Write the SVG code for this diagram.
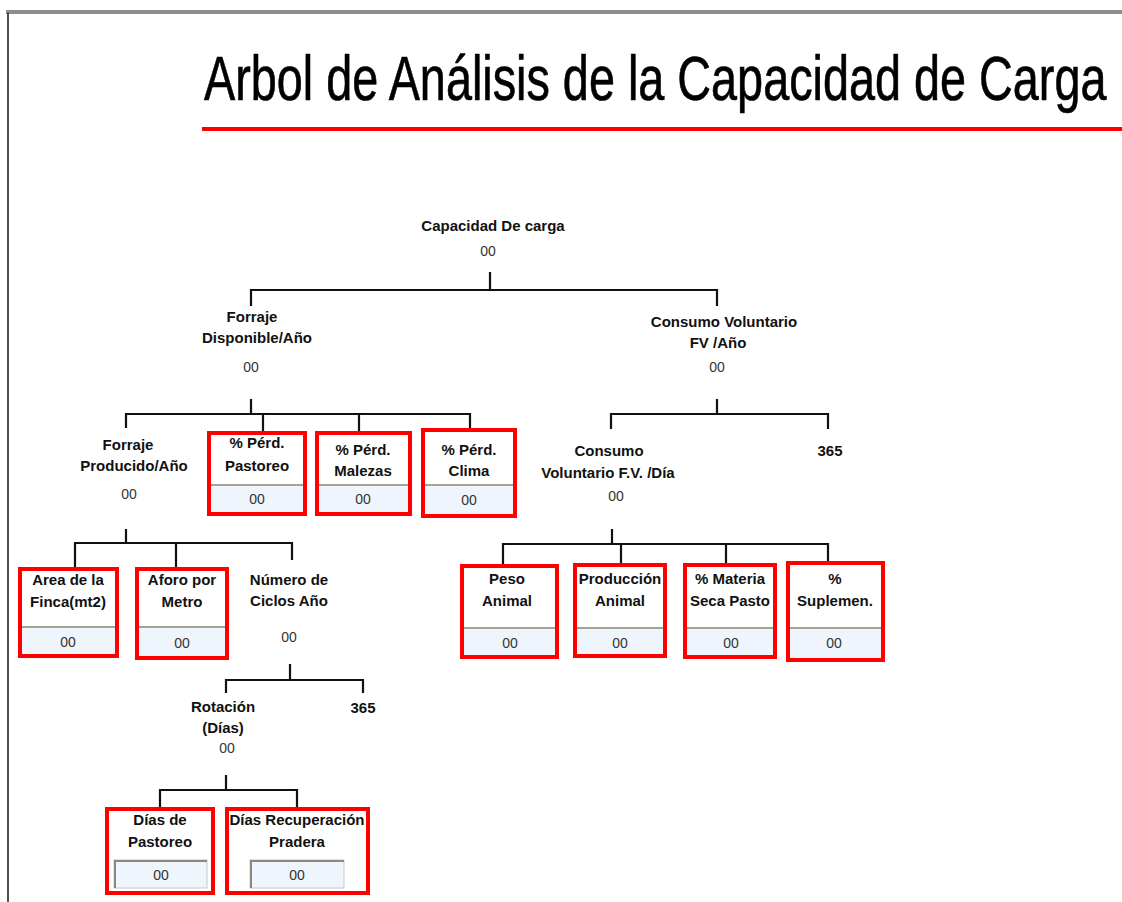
<svg xmlns="http://www.w3.org/2000/svg" width="1122" height="902" viewBox="0 0 1122 902">
<style>
.lbl{font-family:"Liberation Sans",Arial,sans-serif;font-weight:bold;font-size:15px;fill:#111;text-anchor:middle}
.val{font-family:"Liberation Sans",Arial,sans-serif;font-size:14px;fill:#333;text-anchor:middle}
.box{fill:#fff;stroke:#f00;stroke-width:4}
.fld{fill:#eef5fd}
.sep{stroke:#a3a394;stroke-width:2}
.sunk{fill:#eef5fd;stroke:#c8c8c0;stroke-width:1}
.sunkedge{fill:none;stroke:#8a8a80;stroke-width:2}
.conn{fill:none;stroke:#111;stroke-width:2.2}
</style>
<rect x="0" y="0" width="1122" height="902" fill="#fff"/>
<g id="frame">
<rect x="6" y="10" width="1116" height="4" fill="#8c8c8c"/>
<line x1="8" y1="13" x2="8" y2="902" stroke="#222" stroke-width="1.6"/>
</g>
<g id="title">
<text transform="translate(204,100) scale(1,1.33)" x="0" y="0" font-family="'Liberation Sans',Arial,sans-serif" font-size="46.8" fill="#000" stroke="#000" stroke-width="0.5">Arbol de Análisis de la Capacidad de Carga</text>
<rect x="202" y="127" width="920" height="4" fill="#f00"/>
</g>
<g id="connectors" class="conn">
<path d="M490,272V290M251,306V290H717V306"/>
<path d="M251,399V414M126,428V414H470V429M263,414V431M359,414V431"/>
<path d="M717,399V414M611,429V414H828V429"/>
<path d="M126,529V543M75,567V543H292V560M176,543V567"/>
<path d="M612,529V544M503,564V544H828V561M621,544V563M726,544V563"/>
<path d="M290,664V680M226,693V680H363V693"/>
<path d="M226,775V790M160,807V790H297V807"/>
</g>
<g id="n-capacidad">
<text class="lbl" x="493" y="231">Capacidad De carga</text>
<text class="val" x="488" y="256">00</text>
</g>
<g id="n-forraje-disp">
<text class="lbl" x="252" y="322">Forraje</text>
<text class="lbl" x="257" y="343">Disponible/Año</text>
<text class="val" x="251" y="372">00</text>
</g>
<g id="n-consumo-ano">
<text class="lbl" x="724" y="327">Consumo Voluntario</text>
<text class="lbl" x="718" y="348">FV /Año</text>
<text class="val" x="717" y="372">00</text>
</g>
<g id="n-forraje-prod">
<text class="lbl" x="128" y="450">Forraje</text>
<text class="lbl" x="134" y="471">Producido/Año</text>
<text class="val" x="129" y="499">00</text>
</g>
<g id="n-perd-pastoreo">
<rect class="box" x="209" y="433" width="96" height="81"/>
<rect class="fld" x="211" y="485" width="92" height="27"/>
<line class="sep" x1="211" y1="485" x2="303" y2="485"/>
<text class="lbl" x="257" y="448">% Pérd.</text>
<text class="lbl" x="257" y="471">Pastoreo</text>
<text class="val" x="257" y="504">00</text>
</g>
<g id="n-perd-malezas">
<rect class="box" x="317" y="433" width="93" height="81"/>
<rect class="fld" x="319" y="485" width="89" height="27"/>
<line class="sep" x1="319" y1="485" x2="408" y2="485"/>
<text class="lbl" x="363" y="455">% Pérd.</text>
<text class="lbl" x="363" y="476">Malezas</text>
<text class="val" x="363" y="504">00</text>
</g>
<g id="n-perd-clima">
<rect class="box" x="423" y="430" width="92" height="86"/>
<rect class="fld" x="425" y="485" width="88" height="29"/>
<line class="sep" x1="425" y1="485" x2="513" y2="485"/>
<text class="lbl" x="469" y="455">% Pérd.</text>
<text class="lbl" x="469" y="476">Clima</text>
<text class="val" x="469" y="505">00</text>
</g>
<g id="n-consumo-dia">
<text class="lbl" x="609" y="456">Consumo</text>
<text class="lbl" x="608" y="478">Voluntario F.V. /Día</text>
<text class="val" x="616" y="501">00</text>
</g>
<g id="n-365-a">
<text class="lbl" x="830" y="456">365</text>
</g>
<g id="n-area">
<rect class="box" x="20" y="569" width="97" height="87"/>
<rect class="fld" x="22" y="627" width="93" height="27"/>
<line class="sep" x1="22" y1="627" x2="115" y2="627"/>
<text class="lbl" x="68" y="585">Area de la</text>
<text class="lbl" x="68" y="607">Finca(mt2)</text>
<text class="val" x="68" y="647">00</text>
</g>
<g id="n-aforo">
<rect class="box" x="137" y="569" width="90" height="89"/>
<rect class="fld" x="139" y="627" width="86" height="29"/>
<line class="sep" x1="139" y1="627" x2="225" y2="627"/>
<text class="lbl" x="182" y="585">Aforo por</text>
<text class="lbl" x="182" y="607">Metro</text>
<text class="val" x="182" y="648">00</text>
</g>
<g id="n-ciclos">
<text class="lbl" x="289" y="585">Número de</text>
<text class="lbl" x="289" y="606">Ciclos Año</text>
<text class="val" x="289" y="642">00</text>
</g>
<g id="n-peso">
<rect class="box" x="462" y="566" width="95" height="91"/>
<rect class="fld" x="464" y="628" width="91" height="27"/>
<line class="sep" x1="464" y1="628" x2="555" y2="628"/>
<text class="lbl" x="507" y="584">Peso</text>
<text class="lbl" x="507" y="606">Animal</text>
<text class="val" x="510" y="648">00</text>
</g>
<g id="n-produccion">
<rect class="box" x="575" y="565" width="90" height="91"/>
<rect class="fld" x="577" y="628" width="86" height="26"/>
<line class="sep" x1="577" y1="628" x2="663" y2="628"/>
<text class="lbl" x="620" y="584">Producción</text>
<text class="lbl" x="620" y="606">Animal</text>
<text class="val" x="620" y="648">00</text>
</g>
<g id="n-materia">
<rect class="box" x="685" y="565" width="90" height="92"/>
<rect class="fld" x="687" y="628" width="86" height="27"/>
<line class="sep" x1="687" y1="628" x2="773" y2="628"/>
<text class="lbl" x="730" y="584">% Materia</text>
<text class="lbl" x="730" y="606">Seca Pasto</text>
<text class="val" x="731" y="648">00</text>
</g>
<g id="n-suplemen">
<rect class="box" x="788" y="563" width="95" height="97"/>
<rect class="fld" x="790" y="628" width="91" height="30"/>
<line class="sep" x1="790" y1="628" x2="881" y2="628"/>
<text class="lbl" x="835" y="584">%</text>
<text class="lbl" x="835" y="606">Suplemen.</text>
<text class="val" x="834" y="648">00</text>
</g>
<g id="n-rotacion">
<text class="lbl" x="223" y="712">Rotación</text>
<text class="lbl" x="223" y="733">(Días)</text>
<text class="val" x="227" y="753">00</text>
</g>
<g id="n-365-b">
<text class="lbl" x="363" y="713">365</text>
</g>
<g id="n-dias-pastoreo">
<rect class="box" x="107" y="809" width="106" height="84"/>
<rect class="sunk" x="114" y="860" width="93" height="28"/>
<path class="sunkedge" d="M115,888V861H207"/>
<text class="lbl" x="160" y="825">Días de</text>
<text class="lbl" x="160" y="847">Pastoreo</text>
<text class="val" x="161" y="880">00</text>
</g>
<g id="n-dias-recuperacion">
<rect class="box" x="227" y="809" width="141" height="84"/>
<rect class="sunk" x="250" y="860" width="94" height="28"/>
<path class="sunkedge" d="M251,888V861H344"/>
<text class="lbl" x="297" y="825">Días Recuperación</text>
<text class="lbl" x="297" y="847">Pradera</text>
<text class="val" x="297" y="880">00</text>
</g>
</svg>
